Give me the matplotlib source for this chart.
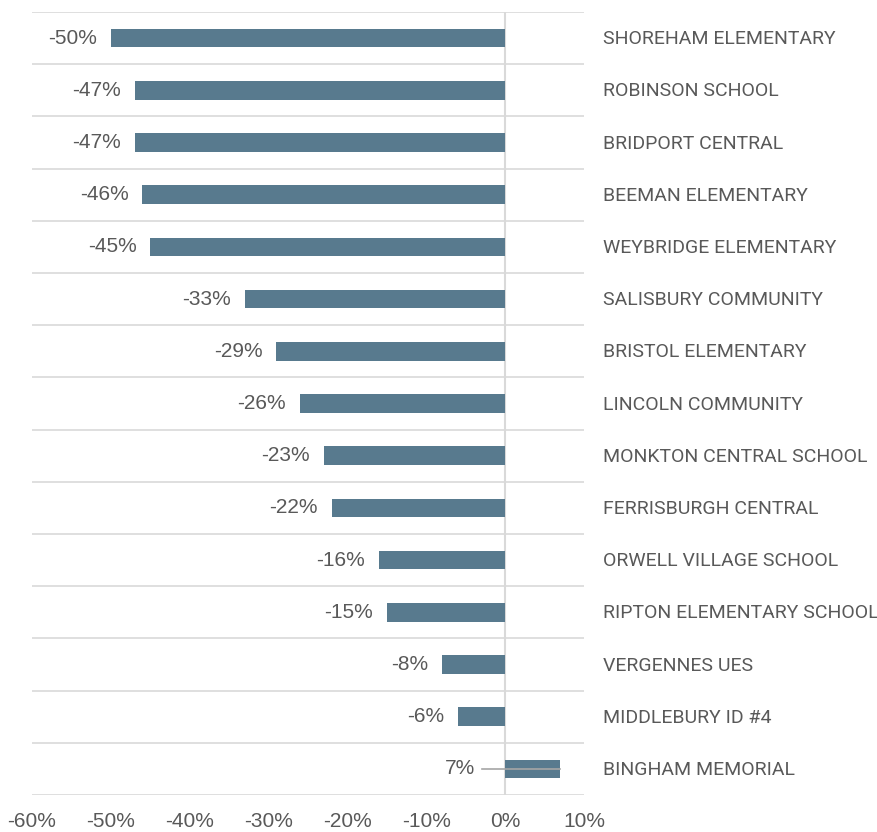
import numpy as np
import matplotlib.pyplot as plt
import matplotlib.transforms as mtransforms

schools = ["SHOREHAM ELEMENTARY", "ROBINSON SCHOOL", "BRIDPORT CENTRAL",
           "BEEMAN ELEMENTARY", "WEYBRIDGE ELEMENTARY", "SALISBURY COMMUNITY",
           "BRISTOL ELEMENTARY", "LINCOLN COMMUNITY", "MONKTON CENTRAL SCHOOL",
           "FERRISBURGH CENTRAL", "ORWELL VILLAGE SCHOOL", "RIPTON ELEMENTARY SCHOOL",
           "VERGENNES UES", "MIDDLEBURY ID #4", "BINGHAM MEMORIAL"]
change = [-50, -47, -47, -46, -45, -33, -29, -26, -23, -22, -16, -15, -8, -6, 7]
xticks = [-60, -50, -40, -30, -20, -10, 0, 10]

bar_col = "#587A8E"
txt_col = "#595959"
grid_col = "#D9D9D9"

plt.rcParams['font.family'] = ['Liberation Sans', 'DejaVu Sans']

fig = plt.figure(figsize=(8.77, 8.32), dpi=100)
ax = fig.add_axes([32/877, 1 - 795/832, 552/877, 783/832])

y = np.arange(len(schools))
ax.barh(y, change, height=0.36, color=bar_col, zorder=2)

ax.set_xlim(-60, 10)
ax.set_ylim(len(schools) - 0.5, -0.5)

# row separators
for b in np.arange(-0.5, len(schools), 1.0):
    ax.axhline(b, color=grid_col, lw=1.2, zorder=1)
ax.axvline(0, color=grid_col, lw=1.5, zorder=1)

for s in ax.spines.values():
    s.set_visible(False)
ax.set_yticks([])
ax.set_xticks(xticks)
ax.set_xticklabels([f"{v}%" for v in xticks])
ax.tick_params(axis='x', length=0, pad=12, labelsize=15, labelcolor=txt_col)

# value labels
for yi, v in zip(y, change):
    if v < 0:
        ax.annotate(f"{v}%", (v, yi), xytext=(-10, 0), textcoords='offset points',
                    ha='right', va='center', fontsize=15, color=txt_col)
    else:
        ax.plot([-2.9, v], [yi, yi], color="#A6A6A6", lw=1.2, zorder=3)
        ax.annotate(f"{v}%", (-2.9, yi), xytext=(-5, 0), textcoords='offset points',
                    ha='right', va='center', fontsize=15, color=txt_col)

# school labels to the right of the plot
trans = mtransforms.blended_transform_factory(ax.transAxes, ax.transData)
for yi, name in zip(y, schools):
    ax.text(1 + 19/552, yi + 0.02, name, transform=trans, ha='left', va='center',
            fontsize=14, color=txt_col, family='Roboto')

fig.savefig("out.png", dpi=100)
